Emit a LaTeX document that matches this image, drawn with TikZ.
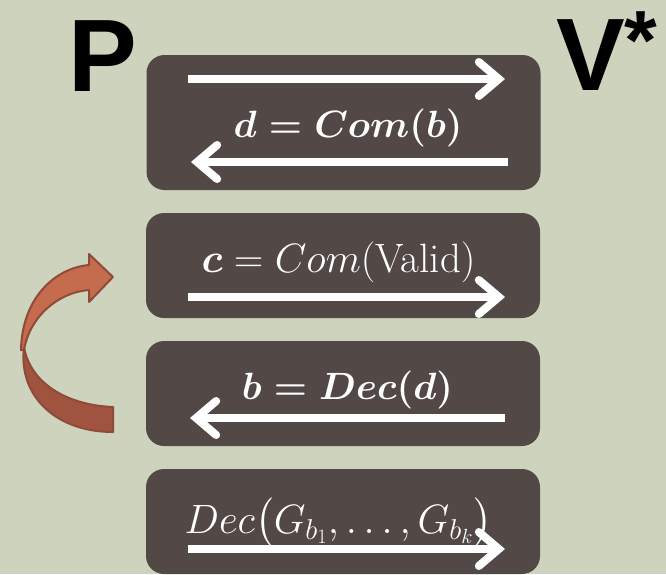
\RequirePackage{fix-cm}
\documentclass[tikz,border=0pt]{standalone}
\usepackage{amsmath,amssymb}
\usepackage{fontspec}
\setsansfont{Liberation Sans}
\usetikzlibrary{arrows.meta,positioning,calc}
\definecolor{sage}{RGB}{205,211,188}
\definecolor{slate}{RGB}{82,73,71}
\definecolor{rustlight}{RGB}{197,107,78}
\definecolor{rustdark}{RGB}{160,84,64}
\definecolor{rustline}{RGB}{142,75,56}

\begin{document}
\begin{tikzpicture}[x=1pt, y=-1pt,
    msg/.style={fill=slate, rounded corners=18pt, minimum width=394pt, inner sep=0pt},
    lbl/.style={text=white, font=\fontsize{38}{40}\selectfont, inner sep=0pt, anchor=base},
    wide/.style={font=\fontsize{41}{44}\selectfont},
    wire/.style={white, line width=8pt, -{Straight Barb[length=20pt, width=34pt, line cap=round]}},
    party/.style={font=\sffamily\bfseries\fontsize{103}{103}\selectfont, inner sep=0pt, anchor=base west}
]
\fill[sage] (0,0) rectangle (666,574);
\useasboundingbox (0,0) rectangle (666,574);

% prover and verifier
\node[party] (prover) at (68,91) {P};
\node[party] (verifier) at (556,90) {V\raisebox{21pt}{\fontsize{84}{84}\selectfont *}};

% message boxes
\node[msg, minimum height=135pt] (commit) at (343.5,122.5) {};
\node[msg, minimum height=105pt] (valid) at (343,265.5) {};
\node[msg, minimum height=105pt] (open) at (343,393.5) {};
\node[msg, minimum height=105pt] (decode) at (343,521.5) {};

% labels
\node[lbl] (commitlbl) at (348,137) {$\boldsymbol{d = Com(b)}$};
\node[lbl, wide] (validlbl) at (338.5,272) {$\boldsymbol{c} = Com(\text{Valid})$};
\node[lbl] (openlbl) at (347.5,399) {$\boldsymbol{b = Dec(d)}$};
\node[lbl, wide] (decodelbl) at (338.5,533) {$Dec\bigl(G_{b_1},\dots,G_{b_k}\bigr)$};

% arrow ends
\coordinate (c1) at (188,79);  \coordinate (c2) at (505,79);
\coordinate (c3) at (508,162); \coordinate (c4) at (191,162);
\coordinate (v1) at (188,297); \coordinate (v2) at (505,297);
\coordinate (o1) at (505,418); \coordinate (o2) at (190,418);
\coordinate (d1) at (188,549); \coordinate (d2) at (505,549);

\draw[wire] (c1) -- (c2);
\draw[wire] (c3) -- (c4);
\draw[wire] (v1) -- (v2);
\draw[wire] (o1) -- (o2);
\draw[wire] (d1) -- (d2);

% rewind arrow
\filldraw[fill=rustdark, draw=rustline, line width=2pt, line join=round]
  (113,407) .. controls (65,405) and (30,382) .. (24,347)
  .. controls (18,398) and (58,432) .. (113,432) -- cycle;
\filldraw[fill=rustlight, draw=rustline, line width=2pt, line join=round]
  (21,350) .. controls (22,298) and (55,268) .. (89,265) -- (89,254) -- (113,277)
  -- (89,302) -- (89,290) .. controls (60,292) and (30,315) .. (24,350) -- cycle;
\end{tikzpicture}
\end{document}
